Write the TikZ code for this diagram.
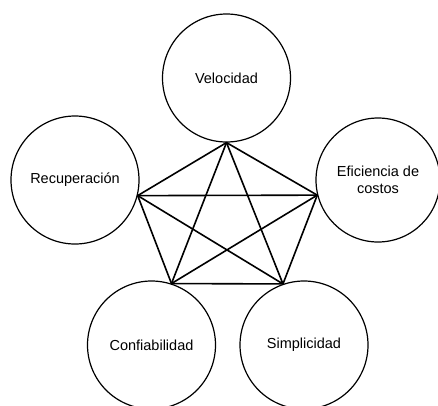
\documentclass[tikz,border=0pt]{standalone}
\usepackage{fontspec}
\setmainfont{Liberation Sans}
\begin{document}
\begin{tikzpicture}[x=1pt,y=-1pt,
  goal/.style={circle,draw,line width=1.2pt,minimum size=128pt,inner sep=0pt,
    align=center,font=\fontsize{14.5}{17}\selectfont},
  link/.style={line width=1.6pt}]
\useasboundingbox (0,0) rectangle (438,405);
\clip (0,0) rectangle (438,405);
\node[goal] (vel) at (226.5,78) {Velocidad};
\node[goal] (rec) at (75,180) {Recuperación};
\node[goal,minimum size=124pt] (efi) at (378,180) {Eficiencia de\\costos};
\node[goal] (con) at (151.5,345) {Confiabilidad};
\node[goal] (sim) at (304,345) {Simplicidad};
% corners of the pentagon on the circle rims
\coordinate (pv) at (vel.-90);
\coordinate (pr) at (rec.-14);
\coordinate (pe) at (efi.194);
\coordinate (pc) at (con.72);
\coordinate (ps) at (sim.109);
\draw[link,line join=round] (pv) -- (pr) -- (pc) -- (ps) -- (pe) -- cycle;
\draw[link] (pv) -- (pc);
\draw[link] (pv) -- (ps);
\draw[link] (pr) -- (pe);
\draw[link] (pr) -- (ps);
\draw[link] (pe) -- (pc);
\end{tikzpicture}
\end{document}
